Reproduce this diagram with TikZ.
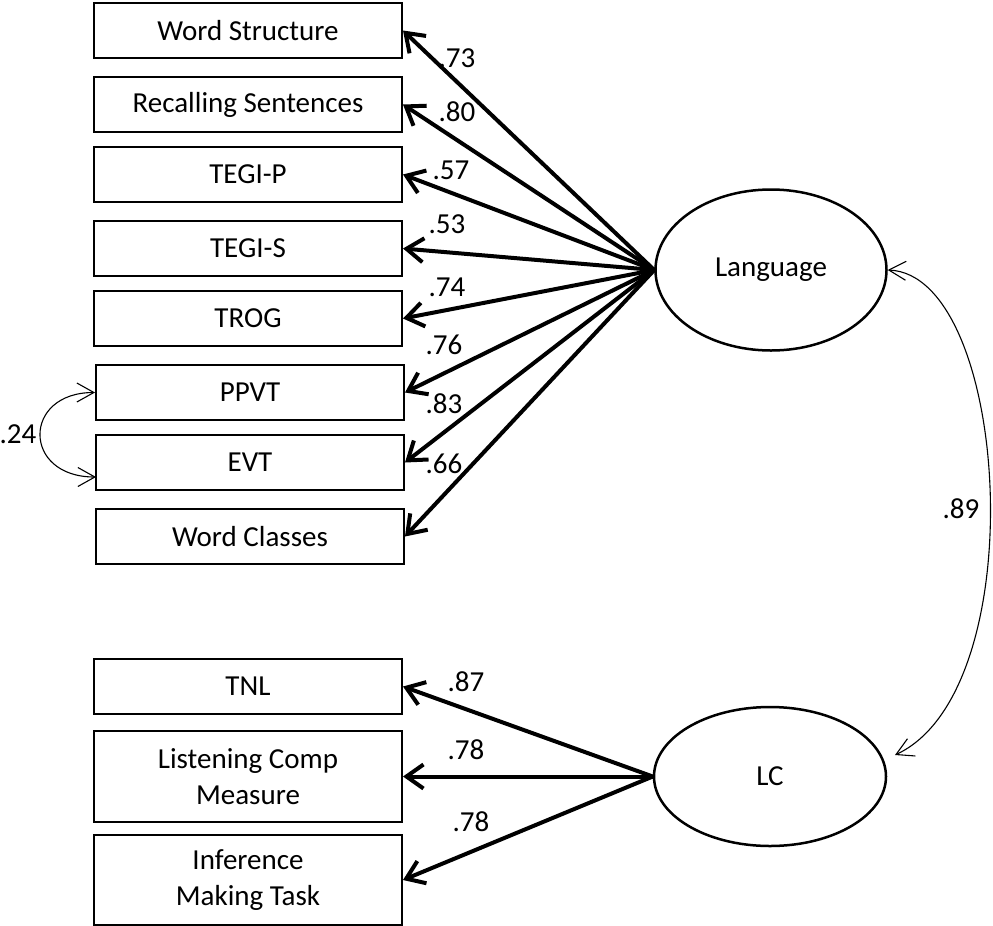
\documentclass[tikz,border=0pt]{standalone}
\usepackage{fontspec}
\setmainfont{Carlito}
\usetikzlibrary{arrows.meta,shapes.geometric}
\begin{document}
\begin{tikzpicture}[x=1pt,y=-1pt,
 box/.style={draw,line width=2pt,minimum width=308pt,minimum height=55pt,inner sep=0pt,align=center,font=\fontsize{29}{36}\selectfont},
 lat/.style={draw,ellipse,line width=2.5pt,inner sep=0pt,font=\fontsize{29}{36}\selectfont},
 load/.style={line width=4pt,-{Straight Barb[length=17pt,width=24pt]}},
 cov/.style={line width=1.1pt,{Straight Barb[length=17pt,width=19pt]}-{Straight Barb[length=17pt,width=19pt]}},
 coef/.style={font=\fontsize{29}{36}\selectfont,inner sep=0pt}]
\useasboundingbox (0,0) rectangle (993,926);
% observed indicators
\node[box] (ws)  at (248,30.5)  {Word Structure};
\node[box] (rs)  at (248,104.5) {Recalling Sentences};
\node[box] (tp)  at (248,174.5) {TEGI-P};
\node[box] (ts)  at (248,248.5) {TEGI-S};
\node[box] (tr)  at (248,318.5) {TROG};
\node[box] (pp)  at (250,392.5) {PPVT};
\node[box] (evt) at (250,462.5) {EVT};
\node[box] (wc)  at (250,536.5) {Word Classes};
\node[box] (tnl) at (248,686.5) {TNL};
\node[box,minimum height=91pt] (lcm) at (248,776.5) {Listening Comp\\Measure};
\node[box,minimum height=90pt] (imt) at (248,880) {Inference\\Making Task};
% latent factors
\node[lat,minimum width=231pt,minimum height=161pt] (lang) at (771,270) {Language};
\node[lat,minimum width=232pt,minimum height=139pt] (lc) at (770,776.5) {LC};
% loadings
\draw[load] (lang.west) -- (ws.east);
\draw[load] (lang.west) -- (rs.east);
\draw[load] (lang.west) -- (tp.east);
\draw[load] (lang.west) -- (ts.east);
\draw[load] (lang.west) -- (tr.east);
\draw[load] (lang.west) -- (pp.east);
\draw[load] (lang.west) -- (evt.east);
\draw[load] (lang.west) -- (wc.east);
\draw[load] (lc.west) -- (tnl.east);
\draw[load] (lc.west) -- (lcm.east);
\draw[load] (lc.west) -- (imt.east);
% coefficient labels
\node[coef] (c1) at (457,58)  {.73};
\node[coef] (c2) at (457,112) {.80};
\node[coef] (c3) at (451,170) {.57};
\node[coef] (c4) at (447,224) {.53};
\node[coef] (c5) at (447,287) {.74};
\node[coef] (c6) at (444,345) {.76};
\node[coef] (c7) at (444,404) {.83};
\node[coef] (c8) at (444,464) {.66};
\node[coef] (c9) at (466,682) {.87};
\node[coef] (c10) at (466,750) {.78};
\node[coef] (c11) at (471,822) {.78};
% covariances
\coordinate (evtin) at (96,477);
\draw[cov] (pp.west) .. controls (22,392.5) and (22,477) .. (evtin);
\node[coef] (c12) at (18,434) {.24};
\coordinate (lcin) at (895,755);
\draw[cov] (lang.east) .. controls (1010,275) and (1035,690) .. (lcin);
\node[coef] (c13) at (961,509) {.89};
\end{tikzpicture}
\end{document}
